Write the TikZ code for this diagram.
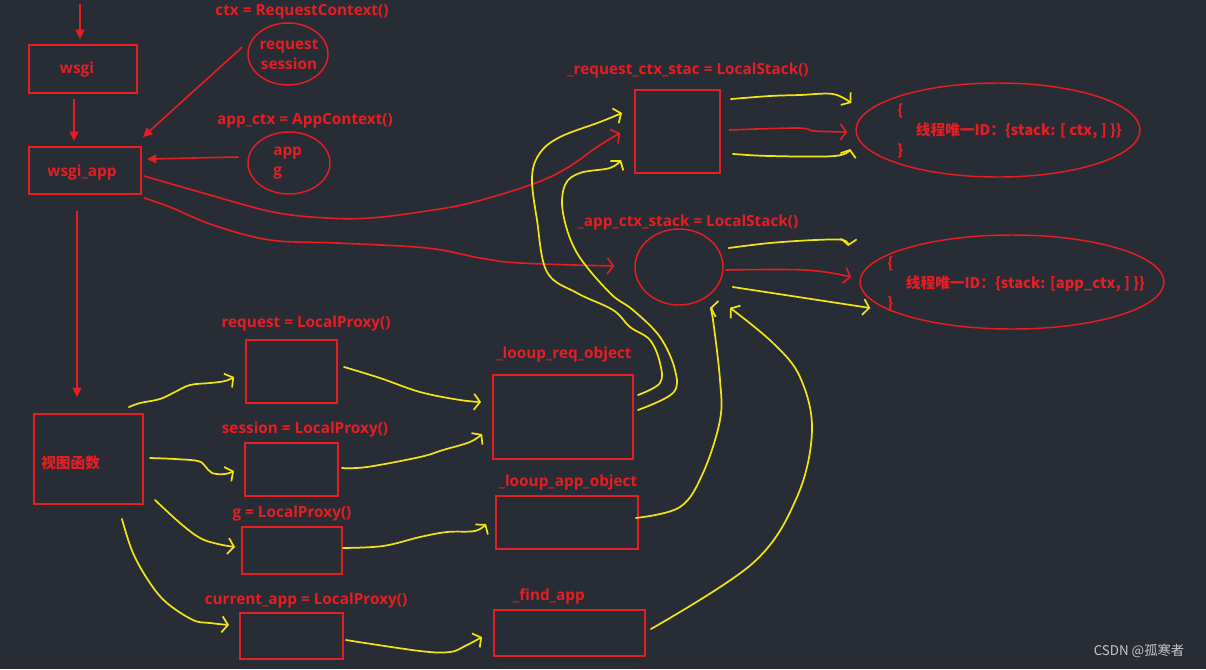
\documentclass[tikz,border=0pt]{standalone}
\usepackage{fontspec}
\setmainfont{Open Sans}
\newfontfamily\cjk{Noto Sans CJK SC}
\usetikzlibrary{arrows.meta, shapes.geometric}

\definecolor{boardgrey}{RGB}{40,44,52}
\definecolor{penred}{RGB}{230,30,36}
\definecolor{penyellow}{RGB}{240,228,20}
\definecolor{markgrey}{RGB}{200,200,200}

\begin{document}
\begin{tikzpicture}[x = 0.75pt, y = -0.75pt, > = {Straight Barb[length = 4.5pt, width = 12pt]},
	redbox/.style = {draw = penred, line width = 1.4pt, inner sep = 0pt},
	redring/.style = {ellipse, draw = penred, line width = 1.1pt, inner sep = 0pt},
	redtext/.style = {text = penred, inner sep = 0pt, font = \bfseries\fontsize{11.5}{15}\selectfont},
	cjktext/.style = {text = penred, inner sep = 0pt, font = \cjk\bfseries\fontsize{11}{15}\selectfont},
	redpen/.style = {draw = penred, line width = 1.2pt},
	yellowpen/.style = {draw = penyellow, line width = 1.3pt, line cap = round, line join = round}]

	% The board
	
	\useasboundingbox [fill = boardgrey] (0, 0) rectangle (1206, 669);

	% Server side
	
	\coordinate (entry) at (80, 4);
	\node [redbox, minimum width = 81pt, minimum height = 36pt] (wsgi) at (83, 69) {};
	\node [redbox, minimum width = 84pt, minimum height = 35.25pt] (wsgiapp) at (85, 170.5) {};
	\node [redbox, minimum width = 81.75pt, minimum height = 67.5pt] (view) at (88.5, 459) {};
	
	\node [redtext] (wsgilbl) at (77, 70) {wsgi};
	\node [redtext] (wsgiapplbl) at (82, 173) {wsgi\_app};
	\node [cjktext, anchor = west] (viewlbl) at (41, 463) {视图函数};
	
	% Contexts
	
	\node [redring, minimum width = 60pt, minimum height = 46.5pt] (ctxell) at (288, 54) {};
	\node [redring, minimum width = 61.5pt, minimum height = 46.5pt] (appell) at (289, 163) {};
	
	\node [redtext] (ctxlbl) at (302, 12) {ctx = RequestContext()};
	\node [redtext, align = center] (ctxitems) at (289, 54) {request\\session};
	\node [redtext] (appctxlbl) at (305, 121) {app\_ctx = AppContext()};
	\node [redtext, align = left, anchor = west] (appitems) at (273, 163) {app\\g};
	
	% Local stacks
	
	\node [redbox, minimum width = 63.75pt, minimum height = 62.25pt] (reqstack) at (677.5, 131.5) {};
	\node [redring, minimum width = 66pt, minimum height = 57pt] (appstack) at (679, 267) {};
	\node [redring, minimum width = 213pt, minimum height = 70.5pt] (reqlocal) at (998, 130) {};
	\node [redring, minimum width = 228pt, minimum height = 70.5pt] (applocal) at (1012, 282) {};
	
	\node [redtext] (reqstacklbl) at (688, 71) {\_request\_ctx\_stac = LocalStack()};
	\node [redtext] (appstacklbl) at (688, 223) {\_app\_ctx\_stack = LocalStack()};
	\node [cjktext, align = left, anchor = west] (reqlocaltext) at (897, 131) {\{\\\hspace{14pt}线程唯一ID：\{stack: [ ctx, ] \}\}\\\}};
	\node [cjktext, align = left, anchor = west] (applocaltext) at (887, 284) {\{\\\hspace{14pt}线程唯一ID：\{stack: [app\_ctx, ] \}\}\\\}};
	
	% Local proxies and lookups
	
	\node [redbox, minimum width = 68.25pt, minimum height = 47.25pt] (reqproxy) at (291.5, 371.5) {};
	\node [redbox, minimum width = 69.75pt, minimum height = 39.75pt] (sessproxy) at (291.5, 469.5) {};
	\node [redbox, minimum width = 75pt, minimum height = 35.25pt] (gproxy) at (292, 550.5) {};
	\node [redbox, minimum width = 77.25pt, minimum height = 34.5pt] (appproxy) at (291.5, 636) {};
	\node [redbox, minimum width = 105pt, minimum height = 63pt] (reqobj) at (563, 417) {};
	\node [redbox, minimum width = 106.5pt, minimum height = 39.75pt] (appobj) at (567, 522.5) {};
	\node [redbox, minimum width = 113.25pt, minimum height = 34.5pt] (findapp) at (569.5, 633) {};
	
	\node [redtext] (reqproxylbl) at (306, 324) {request = LocalProxy()};
	\node [redtext] (sessproxylbl) at (305, 430) {session = LocalProxy()};
	\node [redtext] (gproxylbl) at (292, 514) {g = LocalProxy()};
	\node [redtext] (appproxylbl) at (306, 601) {current\_app = LocalProxy()};
	\node [redtext] (reqobjlbl) at (564, 355) {\_looup\_req\_object};
	\node [redtext] (appobjlbl) at (568, 483) {\_looup\_app\_object};
	\node [redtext] (findapplbl) at (549, 596) {\_find\_app};
	
	% Request flow
	
	\begin{scope}[redpen, -{Triangle[length = 7pt, width = 6.5pt]}]
	
		\draw (entry) -- ([xshift = -2.25pt, yshift = 3.75pt] wsgi.north);
		\draw ([xshift = -6.75pt, yshift = -3.75pt] wsgi.south) -- ([xshift = -8.25pt, yshift = 3.75pt] wsgiapp.north);
		\draw ([xshift = -6pt, yshift = -12pt] wsgiapp.south) -- ([xshift = -8.6pt, yshift = 12pt] view.north);
		\draw ([xshift = -3.75pt, yshift = 5.25pt] ctxell.west) -- ([xshift = 0.75pt, yshift = 6.75pt] wsgiapp.north east);
		\draw ([xshift = -6.75pt, yshift = 4.5pt] appell.west) -- ([xshift = 3.75pt, yshift = 8.6pt] wsgiapp.east);
	
	\end{scope}
	
	% Pushing the contexts
	
	\begin{scope}[redpen, ->]
	
		\draw plot [smooth, tension = 0.6] coordinates {([xshift = 1.5pt, yshift = -4.1pt] wsgiapp.east) (203, 193) (273, 212) (327, 218) (370, 218) (420, 212) (470, 203) (533, 184) (567, 168) (597, 147) ([xshift = -10.5pt, yshift = -1.1pt] reqstack.west)};
		\draw plot [smooth, tension = 0.6] coordinates {([xshift = 1.5pt, yshift = -2.25pt] wsgiapp.south east) (170, 207) (213, 225) (270, 240) (337, 243) (427, 248) (480, 258) (520, 263) ([xshift = -15pt, yshift = 0.75pt] appstack.west)};
		\draw plot [smooth, tension = 0.6] coordinates {([xshift = 6pt, yshift = 1.1pt] reqstack.east) (797, 128) (815, 131) ([xshift = -6pt, yshift = -1.5pt] reqlocal.west)};
		\draw plot [smooth, tension = 0.6] coordinates {([xshift = 1.5pt, yshift = -2.25pt] appstack.east) (806, 270) ([xshift = -6pt, yshift = 3.75pt] applocal.west)};
	
	\end{scope}
	
	% Lookups through the proxies
	
	\begin{scope}[yellowpen, ->]
	
		\draw plot [smooth, tension = 0.6] coordinates {([xshift = -11.25pt, yshift = 4.5pt] view.north east) (140, 403) (160, 399) (175, 392) (190, 385) (210, 383) (225, 381) ([xshift = -8.25pt, yshift = -4.1pt] reqproxy.west)};
		\draw plot [smooth, tension = 0.6] coordinates {([xshift = 4.5pt, yshift = 0.75pt] view.east) (175, 459) (198, 461) (205, 466) (212, 473) (225, 474) ([xshift = -7.5pt, yshift = -1.1pt] sessproxy.west)};
		\draw plot [smooth, tension = 0.6] coordinates {([xshift = 8.25pt, yshift = 3.75pt] view.south east) (180, 523) (200, 538) (218, 544) ([xshift = -4.5pt, yshift = 2.6pt] gproxy.west)};
		\draw plot [smooth, tension = 0.6] coordinates {([xshift = -16.5pt, yshift = -10.5pt] view.south east) (133, 553) (150, 583) (167, 603) (193, 620) (210, 623) ([xshift = -7.5pt, yshift = 8.25pt] appproxy.west)};
		
		\draw plot [smooth, tension = 0.6] coordinates {([xshift = 4.5pt, yshift = 3.4pt] reqproxy.east) (380, 378) (420, 392) (460, 400) ([xshift = -8.25pt, yshift = 11.25pt] reqobj.west)};
		\draw plot [smooth, tension = 0.6] coordinates {([xshift = 2.25pt, yshift = 1.1pt] sessproxy.east) (367, 467) (420, 457) (443, 450) (470, 442) ([xshift = -7.5pt, yshift = -12.75pt] reqobj.west)};
		\draw plot [smooth, tension = 0.6] coordinates {([yshift = 1.9pt] gproxy.east) (383, 546) (420, 537) (447, 532) (475, 531) ([xshift = -6.75pt, yshift = -1.1pt] appobj.west)};
		\draw plot [smooth, tension = 0.6] coordinates {([xshift = 1.5pt, yshift = -3pt] appproxy.east) (420, 651) (450, 652) (465, 646) ([xshift = -8.25pt, yshift = -3pt] findapp.west)};
		
		\draw plot [smooth, tension = 0.6] coordinates {([xshift = 3pt, yshift = 16.5pt] reqobj.east) (660, 383) (660, 363) (650, 340) (630, 327) (613, 310) (577, 293) (547, 272) (537, 220) (532, 177) (540, 153) (560, 137) (600, 122) ([xshift = -9pt, yshift = 13.9pt] reqstack.west)};
		\draw plot [smooth, tension = 0.6] coordinates {([xshift = 3pt, yshift = 5.25pt] reqobj.east) (673, 393) (675, 370) (660, 337) (633, 310) (610, 293) (577, 253) (563, 213) (565, 185) (580, 173) (610, 168) ([xshift = -9.75pt, yshift = -21.4pt] reqstack.west)};
		\draw plot [smooth, tension = 0.6] coordinates {([xshift = -2.25pt, yshift = 3.4pt] appobj.east) (680, 507) (703, 473) (720, 420) (720, 380) (713, 320) ([xshift = 23.25pt, yshift = -1.5pt] appstack.south)};
		\draw plot [smooth, tension = 0.6] coordinates {([xshift = 3.75pt, yshift = 3pt] findapp.east) (753, 563) (797, 497) (812, 430) (800, 377) (773, 343) ([xshift = 38.25pt, yshift = -1.5pt] appstack.south)};
		
		\draw plot [smooth, tension = 0.6] coordinates {([xshift = 7.5pt, yshift = -7.5pt] reqstack.north east) (770, 96) (800, 95) (833, 94) ([xshift = -3pt, yshift = 20.25pt] reqlocal.west)};
		\draw plot [smooth, tension = 0.6] coordinates {([xshift = 9pt, yshift = 15pt] reqstack.south east) (770, 156) (835, 156) ([xshift = -3.75pt, yshift = -14.25pt] reqlocal.west)};
		\draw plot [smooth, tension = 0.6] coordinates {([xshift = 3.75pt, yshift = 14.25pt] appstack.east) (770, 243) (815, 240) (843, 240) ([xshift = -8.25pt, yshift = 27pt] applocal.west)};
		\draw ([xshift = 6.75pt, yshift = -15pt] appstack.east) -- ([xshift = 8.25pt, yshift = -19.5pt] applocal.west);
	
	\end{scope}
	
	% Watermark
	
	\node [text = markgrey, font = \cjk\fontsize{10}{12}\selectfont] (mark) at (1139, 651) {CSDN @孤寒者};

\end{tikzpicture}
\end{document}
